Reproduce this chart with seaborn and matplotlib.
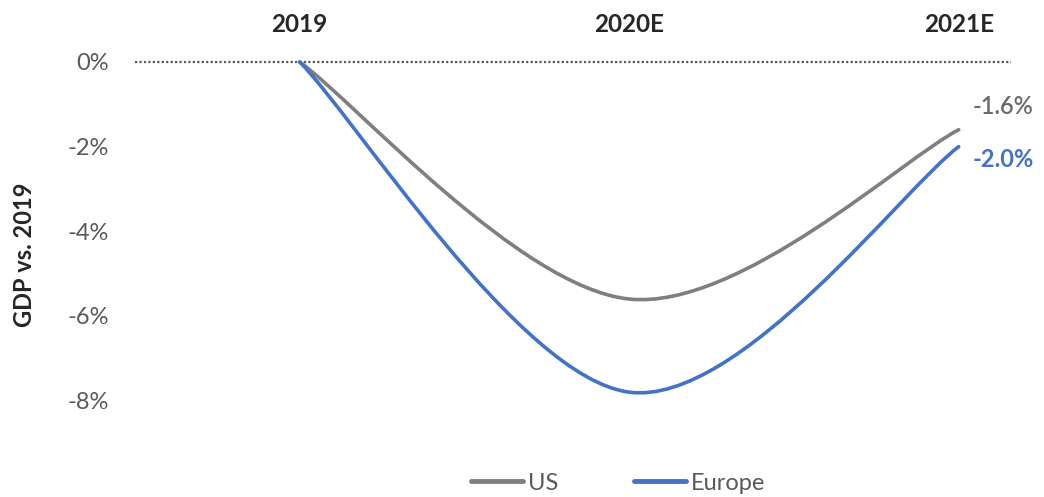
"""
GDP path vs. 2019 - US vs. Europe (smoothed lines, Excel style)
"""

import matplotlib.pyplot as plt
import seaborn as sns
from matplotlib.path import Path
from matplotlib.patches import PathPatch
from matplotlib.lines import Line2D

# data
years = ["2019", "2020E", "2021E"]
us_gdp = [0.0, -5.6, -1.6]
europe_gdp = [0.0, -7.8, -2.0]
series_names = ["US", "Europe"]
series_colors = ["#7f7f7f", "#4472c4"]
yticks = [0, -2, -4, -6, -8]


def smooth_path(xs, ys):
    """Bezier path through every point, catmull-rom style tangents"""
    pts = list(zip(xs, ys))
    n = len(pts)
    verts = [pts[0]]
    codes = [Path.MOVETO]
    for i in range(n - 1):
        p0 = pts[max(i - 1, 0)]
        p1 = pts[i]
        p2 = pts[i + 1]
        p3 = pts[min(i + 2, n - 1)]
        c1 = (p1[0] + (p2[0] - p0[0]) / 6, p1[1] + (p2[1] - p0[1]) / 6)
        c2 = (p2[0] - (p3[0] - p1[0]) / 6, p2[1] - (p3[1] - p1[1]) / 6)
        verts += [c1, c2, p2]
        codes += [Path.CURVE4] * 3
    return Path(verts, codes)


sns.set_theme(style="white")
plt.rcParams["font.family"] = ["Lato", "DejaVu Sans"]

fig = plt.figure(figsize=(10.44, 4.97), dpi=100)
ax = fig.add_axes([0.1293, 0.1087, 0.8395, 0.7666])

x = list(range(len(years)))
ax.set_xlim(-0.5, 2.16)
ax.set_ylim(-9, 0)

# zero reference line
ax.axhline(0, color="#595959", lw=1.6, ls=(0, (1, 1)), clip_on=False, zorder=1)

for name, vals, color in zip(series_names, [us_gdp, europe_gdp], series_colors):
    patch = PathPatch(smooth_path(x, vals), facecolor="none", edgecolor=color,
                      lw=2.6, capstyle="round", clip_on=False, zorder=3)
    ax.add_patch(patch)

# end labels
ax.annotate(f"{us_gdp[-1]:.1f}%", xy=(x[-1], us_gdp[-1]), xytext=(10, 17),
            textcoords="offset points", ha="left", va="center",
            color="#6b6b6b", fontsize=17, fontweight="semibold")
ax.annotate(f"{europe_gdp[-1]:.1f}%", xy=(x[-1], europe_gdp[-1]), xytext=(10, -9),
            textcoords="offset points", ha="left", va="center",
            color=series_colors[1], fontsize=17, fontweight="bold")

# axes styling
ax.xaxis.tick_top()
ax.set_xticks(x)
ax.set_xticklabels(years, fontsize=17.5, fontweight="bold", color="#262626")
ax.set_yticks(yticks)
ax.set_yticklabels([f"{v}%" for v in yticks], fontsize=17, color="#595959")
ax.tick_params(axis="x", length=0, pad=19)
ax.tick_params(axis="y", length=0, pad=19)
sns.despine(ax=ax, left=True, bottom=True, top=True, right=True)
ax.grid(False)

fig.text(25 / 1044, 1 - 255 / 497, "GDP vs. 2019", rotation=90, ha="center",
         va="center", fontsize=17, fontweight="bold", color="#262626")

handles = [Line2D([], [], color=c, lw=3.5) for c in series_colors]
fig.legend(handles, series_names, loc="center", bbox_to_anchor=(618 / 1044, 1 - 483 / 497),
           ncol=2, frameon=False, fontsize=17, handlelength=2.2, handletextpad=0.2,
           columnspacing=3.2, labelcolor="#595959")

fig.savefig("out.png", dpi=100)
